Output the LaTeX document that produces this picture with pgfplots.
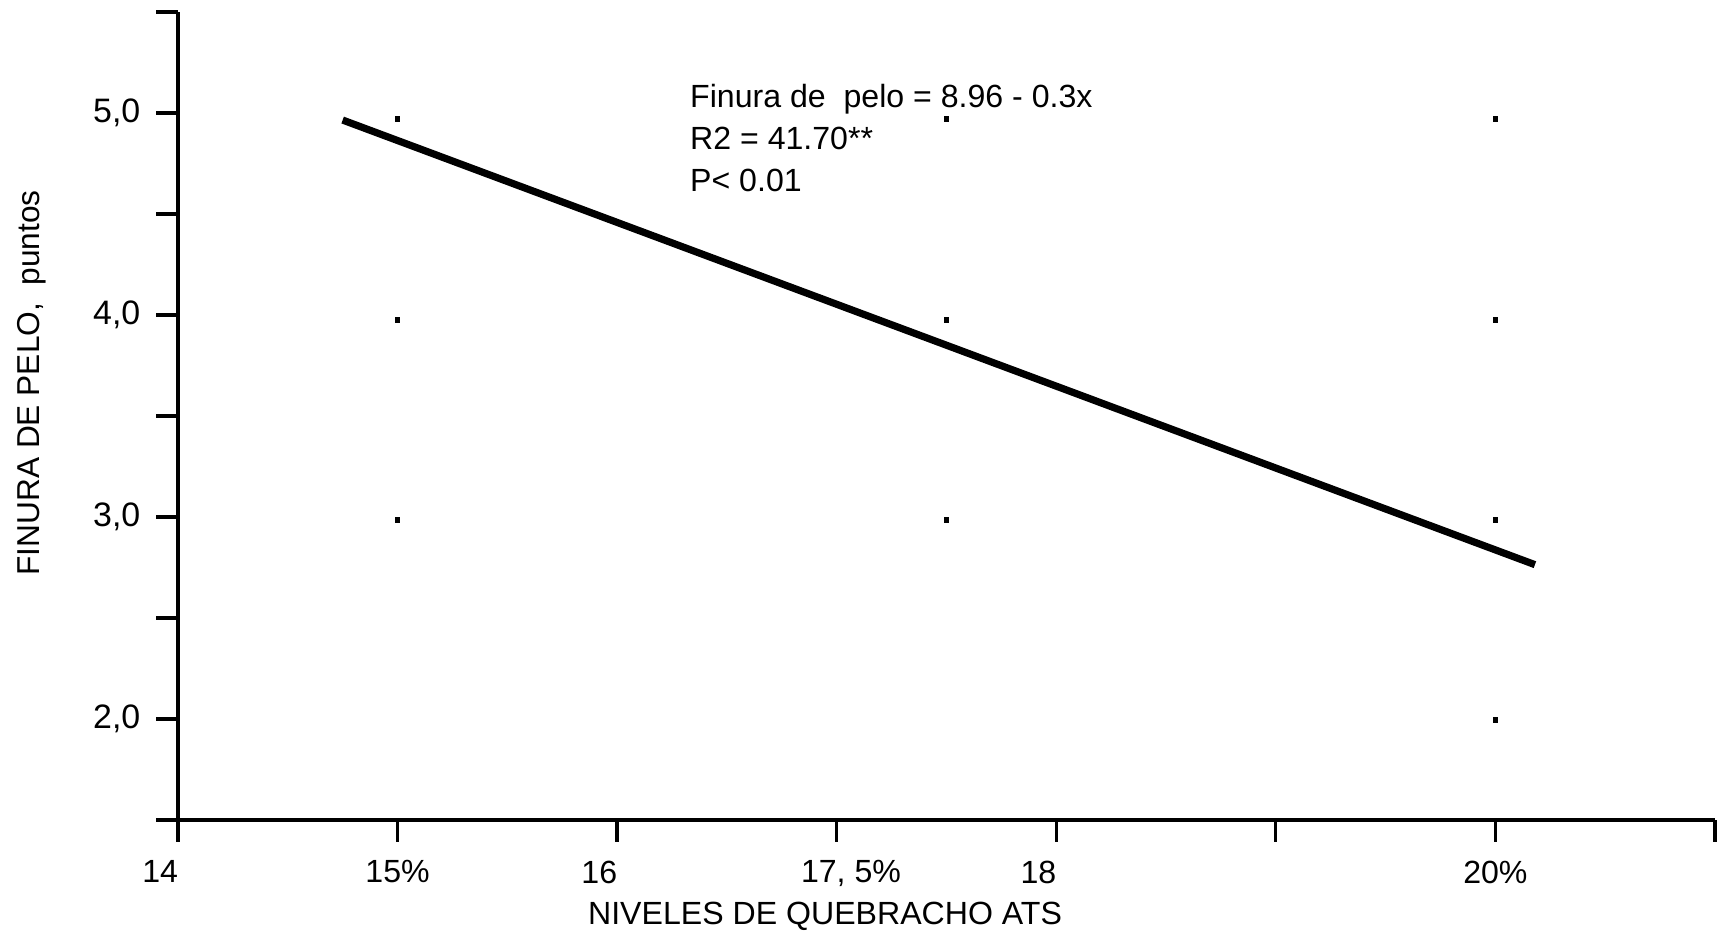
\documentclass[border=0pt]{standalone}
\usepackage{fontspec}
\setmainfont{Liberation Sans}
\usepackage{pgfplots}
\pgfplotsset{compat=1.18}
\newcommand{\labseventeen}{17, 5\%}
\begin{document}
\fontsize{10.7}{13}\selectfont
\begin{tikzpicture}
\begin{axis}[
 scale only axis, width=512.33pt, height=269.33pt,
 xmin=14, xmax=21, ymin=1.5, ymax=5.5,
 axis x line*=bottom, axis y line*=left,
 axis line style={-, line width=1.1pt, black},
 tick align=outside, major tick length=7.3pt,
 tick style={line width=1.1pt, black},
 xtick={14,15,16,17,18,19,20,21},
 xticklabels={\llap{14},15\%,\llap{16},{},\llap{18},{},20\%,{}},
 extra x ticks={17.065}, extra x tick labels={\labseventeen},
 extra x tick style={tick style={draw=none}},
 ytick={1.5,2,2.5,3,3.5,4,4.5,5,5.5},
 yticklabels={{},{2,0},{},{3,0},{},{4,0},{},{5,0},{}},
 xticklabel style={font=\fontsize{10.7}{13}\selectfont, yshift=-2.5pt},
 yticklabel style={font=\fontsize{11.3}{13}\selectfont, xshift=-1.5pt},
 xlabel={NIVELES DE QUEBRACHO ATS},
 ylabel={FINURA DE PELO,~~puntos},
 xlabel style={font=\fontsize{10.7}{13}\selectfont, at={(axis description cs:0.421,0)}, anchor=base, yshift=-35pt},
 ylabel style={font=\fontsize{10.55}{13}\selectfont, at={([xshift=-48.7pt]axis description cs:0,0.541)}, anchor=center},
 clip=false,
 /pgf/number format/assume math mode=true,
]
\addplot[black, line width=2.4pt, no marks] coordinates {(14.75,4.965) (20.18,2.764)};
\addplot[only marks, mark=square*, mark size=0.65pt, black] coordinates {
 (15,4.97) (17.5,4.97) (20,4.97)
 (15,3.975) (17.5,3.975) (20,3.975)
 (15,2.985) (17.5,2.985) (20,2.985)
 (20,1.995)};
\node[anchor=base west, inner sep=0pt, font=\fontsize{10.7}{13}\selectfont] at (axis cs:16.33,5.025) {Finura de~~pelo = 8.96 - 0.3x};
\node[anchor=base west, inner sep=0pt, font=\fontsize{10.7}{13}\selectfont] at (axis cs:16.33,4.817) {R2 = 41.70**};
\node[anchor=base west, inner sep=0pt, font=\fontsize{10.7}{13}\selectfont] at (axis cs:16.33,4.61) {P< 0.01};
\end{axis}
\pgfresetboundingbox
\path ([xshift=-59.33pt,yshift=-37pt]current axis.south west) rectangle ++(572.33pt,310.33pt);
\end{tikzpicture}
\end{document}
